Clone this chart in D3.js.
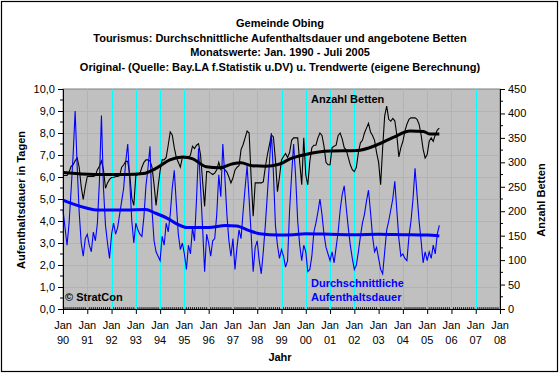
<!DOCTYPE html>
<html><head><meta charset="utf-8">
<script src="https://cdn.jsdelivr.net/npm/d3@7/dist/d3.min.js"></script>
<style>
body{margin:0;background:#fff}
svg{display:block}
text{font-family:"Liberation Sans",Arial,sans-serif;fill:#000}
</style>
</head><body>
<svg id="c" width="560" height="374"></svg>
<script>
// ---------- data ----------
const titleLines = [
  "Gemeinde Obing",
  "Tourismus: Durchschnittliche Aufenthaltsdauer und angebotene Betten",
  "Monatswerte: Jan. 1990 - Juli 2005",
  "Original- (Quelle: Bay.LA f.Statistik u.DV) u. Trendwerte (eigene Berechnung)"
];
const startYear = 1990; // monthly series start Jan 1990
// Durchschnittliche Aufenthaltsdauer (Tage), Jan 1990 .. Jul 2005
const aufenthalt = [
  4.5,3.7,2.9,3.9,5.4,7.0,9.0,6.5,4.4,3.0,2.4,3.2,
  3.4,2.9,2.6,3.5,3.1,3.9,5.8,8.8,5.5,3.8,3.0,2.3,
  3.4,3.9,3.4,3.7,4.3,4.9,5.5,6.7,7.5,5.8,4.0,3.0,
  3.9,3.6,3.4,3.3,4.2,5.6,6.4,7.4,4.5,3.1,2.6,2.4,
  2.2,3.3,2.9,3.9,3.5,4.3,5.5,6.3,4.8,3.4,2.7,3.0,
  2.5,1.8,2.9,2.5,3.7,3.1,5.0,7.3,5.5,3.7,1.7,3.4,
  3.0,2.4,3.1,3.2,4.3,6.1,5.1,7.5,6.0,4.3,3.1,2.4,
  3.2,1.8,2.8,3.6,3.2,4.4,5.5,6.5,5.0,3.4,1.7,2.8,
  3.1,2.2,1.6,2.6,3.8,5.2,6.6,8.0,6.2,3.8,2.9,2.3,
  2.7,2.4,1.9,2.2,4.5,6.1,7.5,6.0,4.0,2.9,2.2,2.9,
  2.6,1.7,1.8,2.4,3.5,3.9,4.4,5.0,4.3,3.4,2.8,2.5,
  2.2,2.6,2.1,2.8,3.5,4.5,5.2,5.6,4.6,3.7,2.9,2.3,
  1.8,2.0,2.6,3.3,3.9,4.3,4.9,5.4,4.4,3.3,2.6,2.8,
  2.3,1.8,1.6,2.6,3.6,4.0,4.5,5.0,5.8,4.5,3.2,2.4,
  2.5,2.3,2.2,3.3,4.0,5.0,6.4,5.2,4.0,3.1,2.1,2.6,
  2.2,2.6,2.3,2.9,2.5,3.4,3.8
];
// Anzahl Betten, Jan 1990 .. Jul 2005
const betten = [
  273,273,273,280,292,295,303,309,290,250,224,250,
  271,271,271,271,273,285,292,303,285,247,258,265,
  269,269,271,271,273,290,295,302,302,275,227,212,
  273,275,277,290,300,305,305,303,290,255,212,250,
  283,305,305,310,335,362,356,330,310,300,290,310,
  309,309,309,315,333,328,335,338,315,261,210,281,
  281,278,275,278,285,300,285,290,285,280,270,258,
  268,284,290,293,326,336,350,364,360,268,190,258,
  258,258,258,260,290,315,335,356,352,305,240,270,
  305,312,318,310,320,345,350,350,350,300,254,350,
  274,254,302,330,335,335,350,360,355,333,300,295,
  295,330,333,335,355,360,348,330,325,310,295,285,
  281,290,320,340,345,360,370,380,362,355,345,320,
  300,254,330,395,415,388,384,390,385,356,311,330,
  343,364,378,388,391,391,391,388,378,356,327,309,
  316,343,350,343,356,366,370
];
// Trend values [year, value]
const aufenthaltTrend = [
  [1990.0,4.95],[1990.4,4.78],[1991.0,4.58],[1991.4,4.5],[1992.6,4.5],[1993.4,4.52],
  [1993.8,4.36],[1994.3,4.12],[1994.7,3.86],[1995.1,3.7],[1996.0,3.7],[1996.7,3.8],
  [1997.15,3.77],[1997.7,3.55],[1998.1,3.42],[1998.9,3.36],[1999.5,3.38],[2000.0,3.42],
  [2001.0,3.4],[2002.0,3.38],[2003.0,3.4],[2004.0,3.38],[2005.0,3.36],[2005.5,3.32]
];
const bettenTrend = [
  [1990.0,279],[1991.3,275],[1992.6,275],[1993.3,277],[1993.85,288],[1994.4,305],
  [1994.95,311],[1995.35,307],[1995.9,291],[1996.45,289],[1997.0,297],[1997.33,299],
  [1997.8,293],[1998.35,292],[1998.9,296],[1999.35,307],[2000.0,316],[2001.0,323],
  [2002.1,324],[2002.9,335],[2003.6,351],[2004.3,364],[2004.85,363],[2005.1,358],[2005.5,358]
];
const xTickYears = [1990,1991,1992,1993,1994,1995,1996,1997,1998,1999,2000,2001,2002,2003,2004,2005,2006,2007,2008];
const xTickMonth = "Jan";
const leftTicks = [0,1,2,3,4,5,6,7,8,9,10];
const rightTicks = [0,50,100,150,200,250,300,350,400,450];

// ---------- layout ----------
const svg = d3.select("#c");
const L = 63, R = 500, T = 89, B = 309;
const x = d3.scaleLinear().domain([1990, 2008]).range([L, R]);
const yL = d3.scaleLinear().domain([0, 10]).range([B, T]);
const yR = d3.scaleLinear().domain([0, 450]).range([B, T]);

svg.append("rect").attr("x",1.5).attr("y",1.5).attr("width",556).attr("height",370)
  .attr("fill","#fff").attr("stroke","#000").attr("stroke-width",1.2);

// title
svg.append("g").selectAll("text").data(titleLines).join("text")
  .attr("x", 280).attr("y", (d,i)=>27 + i*14.5)
  .attr("text-anchor","middle").attr("font-size","11px").attr("font-weight","bold")
  .text(d=>d);

// plot background
svg.append("rect").attr("x",L).attr("y",T).attr("width",R-L).attr("height",B-T)
  .attr("fill","#C0C0C0").attr("stroke","#808080").attr("stroke-width",1);

// gridlines
const grid = svg.append("g").attr("stroke","#00FFFF").attr("stroke-width",1).attr("shape-rendering","crispEdges");
grid.selectAll(".h").data(leftTicks.slice(1,-1)).join("line")
  .attr("x1",L).attr("x2",R).attr("y1",d=>Math.round(yL(d))+0.5).attr("y2",d=>Math.round(yL(d))+0.5);
grid.selectAll(".v").data(xTickYears.slice(1,-1)).join("line")
  .attr("y1",T).attr("y2",B).attr("x1",d=>Math.round(x(d))+0.5).attr("x2",d=>Math.round(x(d))+0.5);

// lines
const monthX = i => x(startYear + i/12);
const lineB = d3.line().x((d,i)=>monthX(i)).y(d=>yR(d));
const lineA = d3.line().x((d,i)=>monthX(i)).y(d=>yL(d));
svg.append("path").datum(betten).attr("d",lineB).attr("fill","none").attr("stroke","#000").attr("stroke-width",1.1);
svg.append("path").datum(aufenthalt).attr("d",lineA).attr("fill","none").attr("stroke","#0000FF").attr("stroke-width",1.1);
svg.append("path").datum(aufenthaltTrend)
  .attr("d", d3.line().curve(d3.curveMonotoneX).x(d=>x(d[0])).y(d=>yL(d[1])))
  .attr("fill","none").attr("stroke","#0000FF").attr("stroke-width",3);
svg.append("path").datum(bettenTrend)
  .attr("d", d3.line().curve(d3.curveMonotoneX).x(d=>x(d[0])).y(d=>yR(d[1])))
  .attr("fill","none").attr("stroke","#000").attr("stroke-width",3);

// axes
const fmtL = d => d.toFixed(1).replace(".", ",");
const gL = svg.append("g").attr("transform",`translate(${L},0)`)
  .call(d3.axisLeft(yL).tickValues(leftTicks).tickFormat(fmtL).tickSize(5).tickPadding(3));
const gR = svg.append("g").attr("transform",`translate(${R},0)`)
  .call(d3.axisRight(yR).tickValues(rightTicks).tickSize(5).tickPadding(3));
const gB = svg.append("g").attr("transform",`translate(0,${B})`)
  .call(d3.axisBottom(x).tickValues(xTickYears).tickSize(5).tickFormat(""));
[gL,gR,gB].forEach(g=>{
  g.selectAll("path.domain").attr("stroke","#000").attr("stroke-width",1);
  g.selectAll(".tick line").attr("stroke","#000");
  g.selectAll("text").attr("font-size","11px").attr("font-family","'Liberation Sans',Arial,sans-serif").attr("fill","#000");
});
// minor ticks
const minorL = d3.range(0.5, 10, 1);
svg.append("g").selectAll("line").data(minorL).join("line")
  .attr("x1",L-3).attr("x2",L).attr("y1",d=>yL(d)).attr("y2",d=>yL(d)).attr("stroke","#000");
const minorR = d3.range(25, 450, 50);
svg.append("g").selectAll("line").data(minorR).join("line")
  .attr("x1",R).attr("x2",R+3).attr("y1",d=>yR(d)).attr("y2",d=>yR(d)).attr("stroke","#000");
const monthTicks = d3.range(0, 18*12).filter(i=>i%12!==0);
svg.append("g").selectAll("line").data(monthTicks).join("line")
  .attr("x1",i=>x(1990+i/12)).attr("x2",i=>x(1990+i/12)).attr("y1",B-2).attr("y2",B)
  .attr("stroke","#000").attr("stroke-width",0.8);

// x labels
const xl = svg.append("g").selectAll("text").data(xTickYears).join("text")
  .attr("text-anchor","middle").attr("font-size","11px");
xl.append("tspan").attr("x",d=>x(d)).attr("y",329).text(xTickMonth);
xl.append("tspan").attr("x",d=>x(d)).attr("y",344).text(d=>String(d%100).padStart(2,"0"));

// axis titles
svg.append("text").attr("transform","translate(25,200) rotate(-90)").attr("text-anchor","middle")
  .attr("font-size","11px").attr("font-weight","bold").text("Aufenthaltsdauer in Tagen");
svg.append("text").attr("transform","translate(545,200) rotate(-90)").attr("text-anchor","middle")
  .attr("font-size","11px").attr("font-weight","bold").text("Anzahl Betten");
svg.append("text").attr("x",280).attr("y",361).attr("text-anchor","middle")
  .attr("font-size","11px").attr("font-weight","bold").text("Jahr");

// annotations
svg.append("text").attr("x",311).attr("y",103).attr("font-size","11px").attr("font-weight","bold").text("Anzahl Betten");
svg.append("text").attr("x",311).attr("y",287).attr("font-size","11px").attr("font-weight","bold").style("fill","#0000FF").text("Durchschnittliche");
svg.append("text").attr("x",311).attr("y",301).attr("font-size","11px").attr("font-weight","bold").style("fill","#0000FF").text("Aufenthaltsdauer");
svg.append("text").attr("x",65).attr("y",301).attr("font-size","11px").attr("font-weight","bold").text("© StratCon");
</script>
</body></html>
